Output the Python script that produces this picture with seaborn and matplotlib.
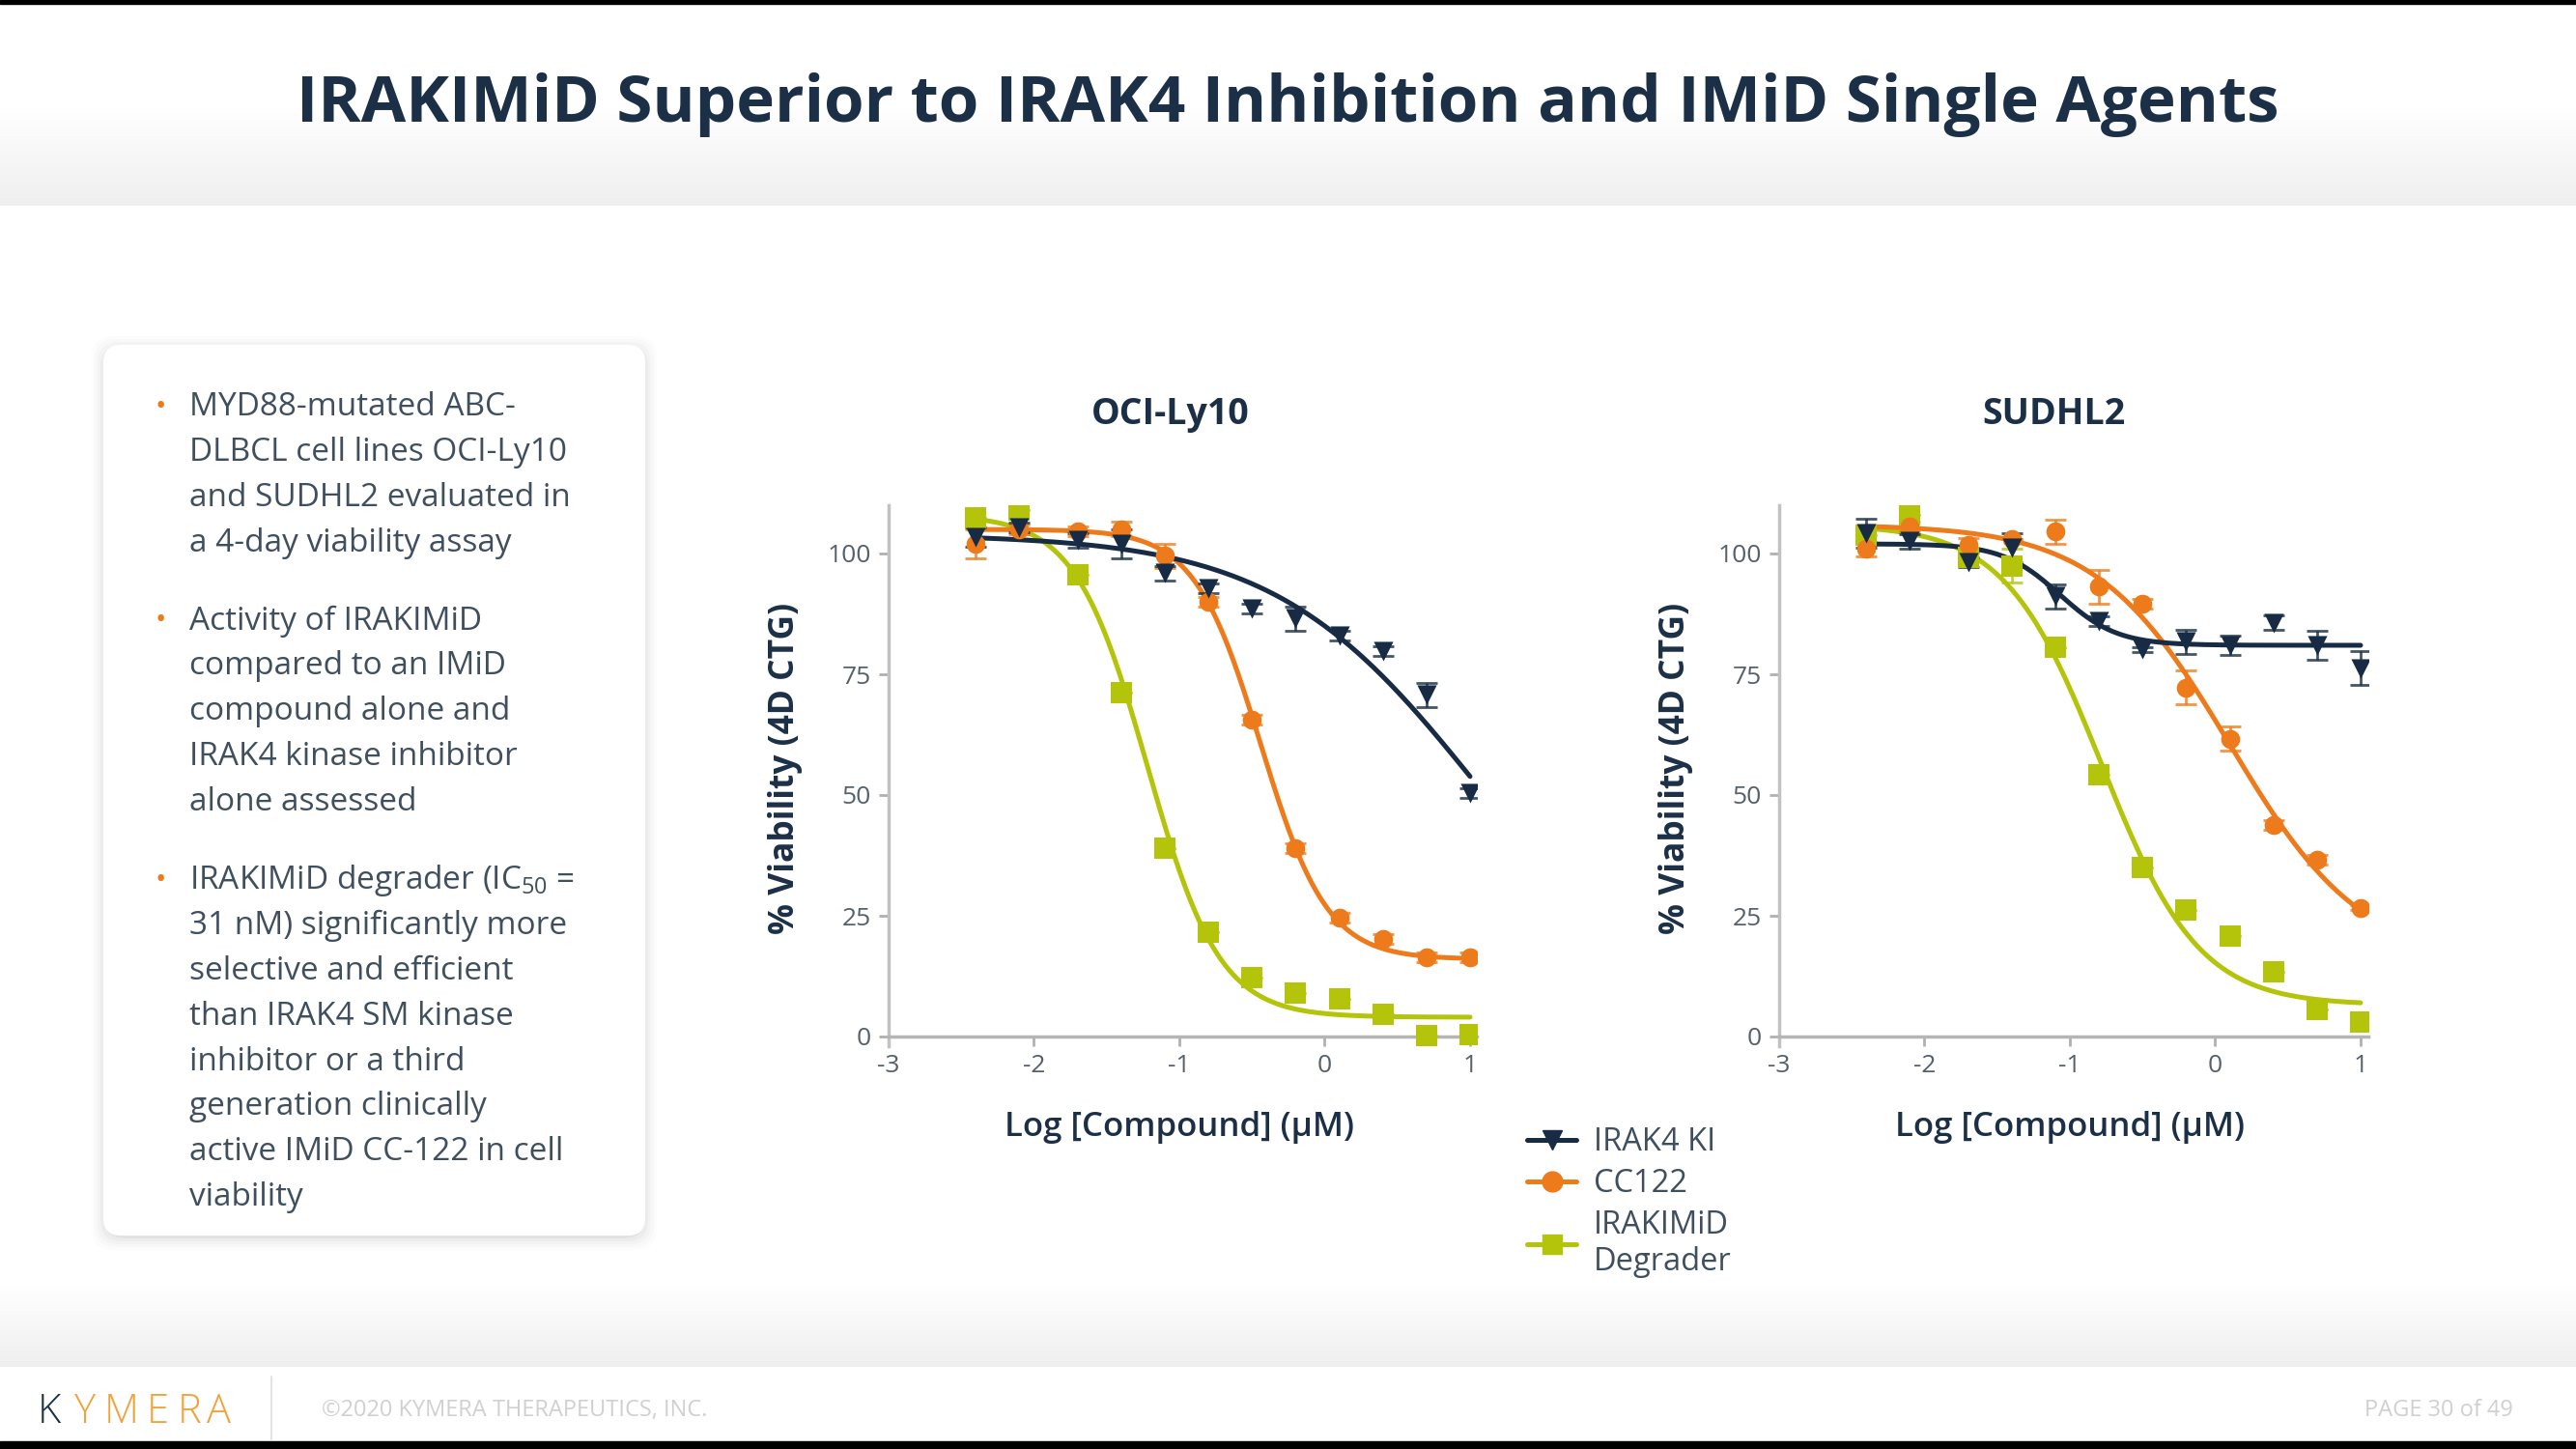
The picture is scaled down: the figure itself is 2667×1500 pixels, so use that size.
import matplotlib
matplotlib.use('Agg')
import matplotlib.pyplot as plt
from matplotlib.colors import LinearSegmentedColormap
from matplotlib.lines import Line2D
from matplotlib.patches import FancyBboxPatch, Rectangle
import numpy as np
import pandas as pd
import seaborn as sns

# values
log_conc = [-2.4, -2.1, -1.7, -1.4, -1.1, -0.8, -0.5, -0.2, 0.1, 0.4, 0.7, 1.0]

compounds = ['IRAKIMiD Degrader', 'CC122', 'IRAK4 KI']
legend_order = ['IRAK4 KI', 'CC122', 'IRAKIMiD Degrader']
legend_labels = ['IRAK4 KI', 'CC122', 'IRAKIMiD\nDegrader']

# OCI-Ly10
irak4_oci = [103.5, 105.5, 102.8, 102.0, 96.0, 92.9, 88.6, 86.6, 83.0, 79.9, 70.8, 50.5]
cc122_oci = [102.0, 105.0, 104.7, 105.1, 99.6, 90.1, 65.7, 39.0, 24.7, 20.3, 16.4, 16.4]
irakimid_oci = [107.5, 109.0, 95.7, 71.2, 39.0, 21.7, 12.3, 9.0, 7.8, 4.6, 0.3, 0.4]
irak4_oci_err = [2.0, 1.0, 1.5, 3.0, 1.5, 1.0, 1.0, 2.5, 1.0, 1.0, 2.5, 1.0]
cc122_oci_err = [3.0, 1.0, 1.0, 1.5, 2.5, 1.0, 1.0, 1.0, 1.0, 1.0, 1.0, 1.0]
irakimid_oci_err = [0, 0, 0, 0, 0, 0, 0, 0, 0, 0, 0, 0]

# SUDHL2
irak4_sud = [104.2, 102.6, 98.3, 101.3, 91.2, 86.1, 80.2, 81.8, 81.0, 85.7, 81.0, 76.3]
cc122_sud = [101.0, 105.7, 101.8, 103.0, 104.6, 93.2, 89.6, 72.3, 61.7, 43.9, 36.6, 26.7]
irakimid_sud = [103.8, 108.1, 99.3, 97.5, 80.6, 54.2, 35.0, 26.3, 20.8, 13.5, 5.7, 3.1]
irak4_sud_err = [3.0, 1.5, 1.0, 3.0, 2.5, 1.0, 0.5, 2.5, 2.0, 1.5, 3.0, 3.5]
cc122_sud_err = [1.5, 1.0, 1.5, 0, 2.5, 3.5, 1.0, 3.5, 2.5, 1.0, 1.0, 0.5]
irakimid_sud_err = [0, 0, 1.0, 3.5, 0, 0, 0, 0, 0, 0, 0, 0]

# fitted 4PL curves: top, bottom, logIC50, hill
fit_oci = {'IRAK4 KI': (104, 0, 1.05, 0.62),
           'CC122': (105, 16, -0.44, 1.9),
           'IRAKIMiD Degrader': (108, 4, -1.22, 1.75)}
fit_sud = {'IRAK4 KI': (102, 81, -1.07, 2.2),
           'CC122': (106, 15, 0.1, 0.95),
           'IRAKIMiD Degrader': (106, 6.5, -0.78, 1.3)}

bullets = [
    ['MYD88-mutated ABC-', 'DLBCL cell lines OCI-Ly10', 'and SUDHL2 evaluated in', 'a 4-day viability assay'],
    ['Activity of IRAKIMiD', 'compared to an IMiD', 'compound alone and', 'IRAK4 kinase inhibitor', 'alone assessed'],
    [r'IRAKIMiD degrader (IC$_{50}$ =', '31 nM) significantly more', 'selective and efficient',
     'than IRAK4 SM kinase', 'inhibitor or a third', 'generation clinically',
     'active IMiD CC-122 in cell', 'viability'],
]

colors = {'IRAK4 KI': '#172c44', 'CC122': '#ee7b1b', 'IRAKIMiD Degrader': '#b4c40a'}
markers = {'IRAK4 KI': 'v', 'CC122': 'o', 'IRAKIMiD Degrader': 's'}
msize = {'IRAK4 KI': 210, 'CC122': 200, 'IRAKIMiD Degrader': 250}

navy = '#1b2f47'
textgray = '#3f4f5e'


def four_pl(x, top, bottom, logic50, hill):
    return bottom + (top - bottom) / (1 + 10 ** ((x - logic50) * hill))


def make_points(cell, values, errs):
    rows = []
    for comp, vals, err in zip(['IRAK4 KI', 'CC122', 'IRAKIMiD Degrader'], values, errs):
        for x, v, e in zip(log_conc, vals, err):
            rows.append({'cell': cell, 'compound': comp, 'logc': x, 'viability': v, 'err': e})
    return pd.DataFrame(rows)


def make_curves(cell, fits):
    xs = np.linspace(min(log_conc), max(log_conc), 300)
    frames = []
    for comp, p in fits.items():
        frames.append(pd.DataFrame({'cell': cell, 'compound': comp, 'logc': xs,
                                    'viability': four_pl(xs, *p)}))
    return pd.concat(frames)


points = pd.concat([
    make_points('OCI-Ly10', [irak4_oci, cc122_oci, irakimid_oci],
                [irak4_oci_err, cc122_oci_err, irakimid_oci_err]),
    make_points('SUDHL2', [irak4_sud, cc122_sud, irakimid_sud],
                [irak4_sud_err, cc122_sud_err, irakimid_sud_err]),
])
curves = pd.concat([make_curves('OCI-Ly10', fit_oci), make_curves('SUDHL2', fit_sud)])

sns.set_style('ticks')
plt.rcParams['font.family'] = ['Open Sans', 'DejaVu Sans']
plt.rcParams['mathtext.fontset'] = 'custom'
plt.rcParams['mathtext.rm'] = 'Open Sans'
plt.rcParams['axes.unicode_minus'] = False

W, H = 2667, 1500
fig = plt.figure(figsize=(W / 100, H / 100), dpi=100)
fig.patch.set_facecolor('white')

# slide background
bg = fig.add_axes([0, 0, 1, 1], zorder=0)
bg.axis('off')
grad = LinearSegmentedColormap.from_list('g', ['#ffffff', '#efefef'])
ramp = np.linspace(0, 1, 100).reshape(-1, 1)
bg.imshow(ramp, extent=(0, W, 213, 110), cmap=grad, aspect='auto')
bg.imshow(ramp, extent=(0, W, 1415, 1330), cmap=grad, aspect='auto')
bg.add_patch(Rectangle((0, 0), W, 4, color='black'))
bg.add_patch(Rectangle((0, 1492), W, 8, color='black'))
bg.set_xlim(0, W)
bg.set_ylim(H, 0)

bg.text(1333, 108, 'IRAKIMiD Superior to IRAK4 Inhibition and IMiD Single Agents',
        ha='center', va='center', fontsize=48.5, fontweight='bold', color=navy)

# text box with soft shadow
for i, a in enumerate([0.035, 0.028, 0.02, 0.014, 0.01]):
    bg.add_patch(FancyBboxPatch((107 - i * 3, 357 - i * 3 + 3), 561 + i * 6, 922 + i * 6,
                                boxstyle='round,pad=0,rounding_size=22',
                                facecolor='#000000', edgecolor='none', alpha=a))
bg.add_patch(FancyBboxPatch((107, 357), 561, 922, boxstyle='round,pad=0,rounding_size=18',
                            facecolor='white', edgecolor='none'))

y_starts = [422, 643, 912]
for lines, y0 in zip(bullets, y_starts):
    bg.text(166, y0, '•', ha='center', va='center', fontsize=22, color='#ee7b1b')
    for k, line in enumerate(lines):
        bg.text(196, y0 + k * 46.8, line, ha='left', va='center', fontsize=24, color=textgray)

# footer logo, letter-spaced
for ch, cx in zip('KYMERA', [51, 88, 126, 163, 196, 226]):
    bg.text(cx, 1462, ch, ha='center', va='center', fontsize=30, fontweight='light',
            color=navy if ch == 'K' else '#f2a23a')
bg.plot([281, 281], [1425, 1490], color='#e3e3e3', lw=1.5)
bg.text(333, 1460, '©2020 KYMERA THERAPEUTICS, INC.', ha='left', va='center', fontsize=17, color='#d0d0d0')
bg.text(2602, 1460, 'PAGE 30 of 49', ha='right', va='center', fontsize=17, color='#d0d0d0')


def draw_panel(ax, cell, title_x):
    pts = points[points.cell == cell]
    cur = curves[curves.cell == cell]
    for comp in compounds:
        sub = pts[pts.compound == comp]
        ax.errorbar(sub['logc'], sub['viability'], yerr=sub['err'], fmt='none', ecolor=colors[comp],
                    elinewidth=2, capsize=8, capthick=2, alpha=0.8, zorder=3)
        sns.lineplot(data=cur[cur.compound == comp], x='logc', y='viability', color=colors[comp],
                     lw=3.6, ax=ax, zorder=3)
        sns.scatterplot(data=sub, x='logc', y='viability', color=colors[comp],
                        marker=markers[comp], s=msize[comp], linewidth=0, ax=ax, zorder=4,
                        legend=False)

    ax.set_xlim(-3, 1.05)
    ax.set_ylim(-2, 110)
    ax.set_xticks([-3, -2, -1, 0, 1])
    ax.set_yticks([0, 25, 50, 75, 100])
    ax.set_facecolor('none')
    sns.despine(ax=ax)
    ax.spines['bottom'].set_position(('data', 0))
    ax.spines['bottom'].set_linestyle((0, (2, 1)))
    ax.spines['bottom'].set_color('#b5b5b5')
    ax.spines['bottom'].set_linewidth(2.5)
    ax.spines['left'].set_color('#c2c2c2')
    ax.spines['left'].set_linewidth(2.5)
    ax.tick_params(axis='both', colors='#b0b0b0', length=7, width=2, labelsize=19,
                   labelcolor='#55606b', pad=6)
    ax.set_xlabel('Log [Compound] (µM)', fontsize=25, fontweight='semibold', color=navy, va='center')
    ax.set_ylabel('% Viability (4D CTG)', fontsize=25.5, fontweight='bold', color=navy, va='center')
    ax.xaxis.set_label_coords(0.494, -0.15)
    ax.yaxis.set_label_coords(-0.1755, 0.514)
    ax.text(title_x, 1.168, cell, transform=ax.transAxes, ha='center', va='center',
            fontsize=27, fontweight='bold', color=navy)


ax1 = fig.add_axes([920 / W, 1 - 1083 / H, 609.5 / W, 560 / H], zorder=2)
ax2 = fig.add_axes([1842 / W, 1 - 1083 / H, 609.5 / W, 560 / H], zorder=2)
draw_panel(ax1, 'OCI-Ly10', 0.479)
draw_panel(ax2, 'SUDHL2', 0.466)

handles = [Line2D([0], [0], color=colors[c], lw=3.6, marker=markers[c], markersize=15)
           for c in legend_order]
fig.legend(handles, legend_labels, loc='upper left', bbox_to_anchor=(1565 / W, 1 - 1150 / H),
           frameon=False, fontsize=23.5, handlelength=1.55, handletextpad=0.55,
           labelspacing=0.3, borderpad=0, labelcolor=textgray)

fig.savefig('out.png', dpi=100)
